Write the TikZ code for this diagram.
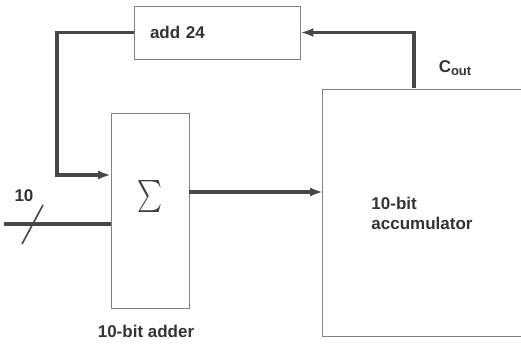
\documentclass[tikz,border=0pt]{standalone}
\usepackage{fontspec}
\usepackage{graphicx}
\setmainfont{Liberation Sans}
\usetikzlibrary{arrows.meta}
\begin{document}
\begin{tikzpicture}[x=1pt,y=-1pt,
 box/.style={draw=black!50,line width=0.9pt},
 wire/.style={draw=black!72,line width=3.2pt},
 arr/.style={wire,-{Latex[length=13pt,width=9pt]}},
 lbl/.style={font=\fontsize{17}{20}\selectfont\bfseries,text=black!80}]
\useasboundingbox (0,0) rectangle (521,345);
% blocks
\node[box,lbl,minimum width=166pt,minimum height=53pt,inner xsep=16pt,text width=134pt,align=left] (add24) at (217,32.5) {add 24};
\node[box,minimum width=78pt,minimum height=195pt] (adder) at (150,210.5) {};
\node[text=black!75,inner sep=0pt] (sigma) at (150,196) {\resizebox*{25pt}{32pt}{$\sum$}};
\node[minimum width=198pt,minimum height=247pt,lbl,align=left] (acc) at (422,213) {10-bit\\accumulator};
\draw[box] (acc.north east) -- (acc.north west) -- (acc.south west) -- (acc.south east);
% labels
\node[lbl] (addlbl) at (146,331) {10-bit adder};
\node[lbl] (coutlbl) at (455,68) {C\raisebox{-0.4ex}{\fontsize{13}{13}\selectfont out}};
\node[lbl] (nlbl) at (24,196) {10};
% coordinates
\coordinate (turn1) at (57,32.5);
\coordinate (fbin) at (111,175);
\coordinate (inA) at (4,224);
\coordinate (inB) at (111,224);
\coordinate (outA) at (189,192);
\coordinate (outB) at (323,192);
\coordinate (coutA) at (414,88);
\coordinate (slA) at (22,244);
\coordinate (slB) at (43,205);
% connectors
\draw[arr] (add24.west) -- (turn1) |- (fbin);
\draw[wire] (inA) -- (inB);
\draw[black!72,line width=1.6pt] (slA) -- (slB);
\draw[arr] (outA) -- (outB);
\draw[arr] (coutA) |- (add24.east);
\end{tikzpicture}
\end{document}
